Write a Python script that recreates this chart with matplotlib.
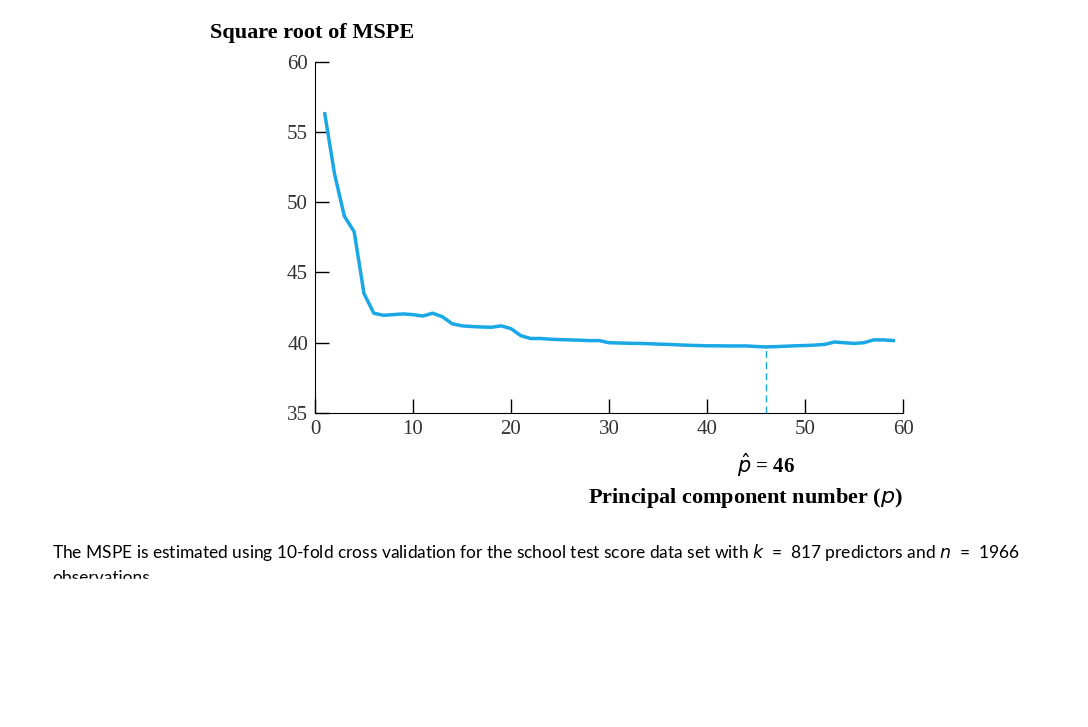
import numpy as np
import matplotlib.pyplot as plt
from matplotlib.patches import Rectangle

# root MSPE by number of principal components
p = np.arange(1, 60)
rmspe = [56.3, 52.0, 49.0, 47.9, 43.5, 42.1, 41.95, 42.0, 42.05, 42.0,
         41.9, 42.1, 41.85, 41.35, 41.2, 41.15, 41.12, 41.1, 41.2, 41.0,
         40.5, 40.3, 40.3, 40.25, 40.22, 40.2, 40.18, 40.15, 40.15, 40.0,
         39.98, 39.96, 39.95, 39.93, 39.9, 39.88, 39.85, 39.82, 39.8, 39.78,
         39.78, 39.77, 39.77, 39.77, 39.73, 39.7, 39.72, 39.75, 39.78, 39.8,
         39.83, 39.88, 40.05, 40.0, 39.95, 40.0, 40.2, 40.2, 40.15]
p_hat = 46

serif = ['Liberation Serif', 'DejaVu Serif']
blue = '#1aa7e6'

fig = plt.figure(figsize=(10.88, 7.27), dpi=100)
ax = fig.add_axes([0.2895, 0.432, 0.5405, 0.483])
ax.plot(p, rmspe, color=blue, lw=2.5)
ax.plot([p_hat, p_hat], [35, rmspe[p_hat - 1]], color=blue, lw=1, ls=(0, (5, 3)))

ax.set_xlim(0, 60)
ax.set_ylim(35, 60)
ax.set_xticks(range(0, 61, 10))
ax.set_yticks(range(35, 61, 5))
for s in ['top', 'right']:
    ax.spines[s].set_visible(False)
ax.tick_params(direction='in', length=10, width=1, labelsize=15, pad=5)
for lab in ax.get_xticklabels() + ax.get_yticklabels():
    lab.set_family(serif)
    lab.set_color('#333333')

fig.text(0.193, 0.955, 'Square root of MSPE', family=serif, fontsize=16,
         fontweight='bold', ha='left', va='center')
ax.text(46, 31.3, r'$\hat{p}$ = 46', family=serif, fontsize=15,
        fontweight='bold', ha='center', va='center')
fig.text(0.83, 0.315, r'Principal component number ($p$)', family=serif,
         fontsize=16, fontweight='bold', ha='right', va='center')

fig.text(0.048, 0.24, r'The MSPE is estimated using 10-fold cross validation for the school test score data set with $k$  =  817 predictors and $n$  =  1966',
         family=['Lato', 'DejaVu Sans'], fontsize=12.5, ha='left', va='center')
fig.text(0.048, 0.205, 'observations.', family=['Lato', 'DejaVu Sans'],
         fontsize=12.5, ha='left', va='center')
fig.patches.append(Rectangle((0, 0), 1, 0.203, transform=fig.transFigure,
                             color='white', zorder=10))

fig.savefig('out.png', dpi=100)
